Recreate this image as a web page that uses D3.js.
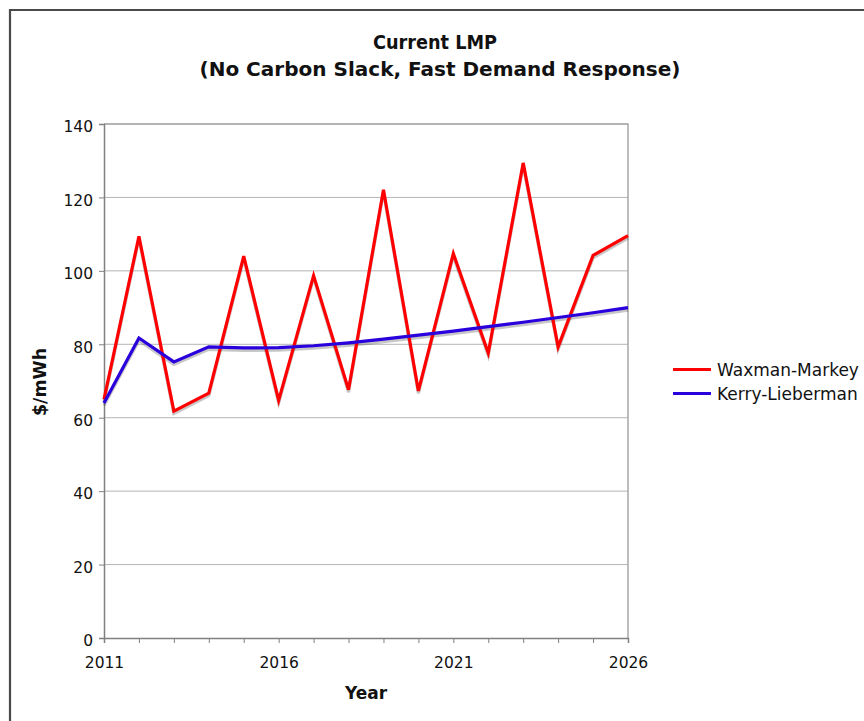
<!DOCTYPE html>
<html>
<head>
<meta charset="utf-8">
<script src="https://cdn.jsdelivr.net/npm/d3@7"></script>
<style>
  html, body { margin: 0; padding: 0; background: #fff; }
  svg { display: block; }
  text { font-family: "DejaVu Sans", Verdana, sans-serif; fill: #111; }
</style>
</head>
<body>
<script>
// Years on the x axis
const years = d3.range(2011, 2027);
// Locational marginal price, $/mWh
const waxmanMarkey = [65, 109.4, 61.8, 66.7, 104, 64.7, 98.7, 67.6, 122.1, 67.3, 104.7, 77.6, 129.4, 79.3, 104.2, 109.6];
const kerryLieberman = [64, 81.7, 75.2, 79.3, 79.0, 79.1, 79.6, 80.4, 81.4, 82.5, 83.6, 84.8, 86.0, 87.3, 88.6, 90.0];
const seriesNames = ["Waxman-Markey", "Kerry-Lieberman"];
const seriesColors = ["#ff0000", "#2a00dd"];
const yTicks = [0, 20, 40, 60, 80, 100, 120, 140];
const xTickLabels = [2011, 2016, 2021, 2026];

const W = 864, H = 721;
const m = { left: 104, right: 236, top: 124, bottom: 83 };

const svg = d3.select("body").append("svg").attr("width", W).attr("height", H);

// outer frame
svg.append("path")
  .attr("d", `M10,${H} V10 H${W}`)
  .attr("fill", "none").attr("stroke", "#4a4a4a").attr("stroke-width", 2.2);

const x = d3.scaleLinear().domain([2011, 2026]).range([m.left, W - m.right]);
const y = d3.scaleLinear().domain([0, 140]).range([H - m.bottom, m.top]);

// horizontal gridlines
svg.append("g").selectAll("line").data(yTicks.filter(v => v > 0)).join("line")
  .attr("x1", m.left).attr("x2", W - m.right)
  .attr("y1", d => y(d)).attr("y2", d => y(d))
  .attr("stroke", "#b4b4b4").attr("stroke-width", 1);

// plot frame (top and right)
svg.append("path")
  .attr("d", `M${m.left},${y(140)} H${x(2026)} V${y(0)}`)
  .attr("fill", "none").attr("stroke", "#a8a8a8").attr("stroke-width", 1.5);

// y axis
const yAxis = svg.append("g").attr("transform", `translate(${m.left},0)`)
  .call(d3.axisLeft(y).tickValues(yTicks).tickSize(5).tickPadding(6));
yAxis.select(".domain").attr("stroke", "#808080").attr("stroke-width", 1.5);
yAxis.selectAll(".tick line").attr("stroke", "#808080");
yAxis.selectAll("text").attr("font-size", 15.5).attr("fill", "#111")
  .attr("dy", "0.5em")
  .attr("font-family", "DejaVu Sans, Verdana, sans-serif");

// x axis: a tick every year, labels every five
const xAxis = svg.append("g").attr("transform", `translate(0,${y(0)})`)
  .call(d3.axisBottom(x).tickValues(years).tickSize(5).tickPadding(14)
    .tickFormat(d => xTickLabels.includes(d) ? String(d) : ""));
xAxis.select(".domain").attr("stroke", "#808080").attr("stroke-width", 1.5);
xAxis.selectAll(".tick line").attr("stroke", "#808080");
xAxis.selectAll("text").attr("font-size", 15.5).attr("fill", "#111")
  .attr("font-family", "DejaVu Sans, Verdana, sans-serif");

const line = d3.line().x((d, i) => x(years[i])).y(d => y(d));
const allSeries = [waxmanMarkey, kerryLieberman];

// soft drop shadow under each series
allSeries.forEach(s => {
  svg.append("path").datum(s).attr("d", line)
    .attr("transform", "translate(0,2.5)")
    .attr("fill", "none").attr("stroke", "rgba(0,0,0,0.22)")
    .attr("stroke-width", 3.2).attr("stroke-linejoin", "miter");
});
allSeries.forEach((s, k) => {
  svg.append("path").datum(s).attr("d", line)
    .attr("fill", "none").attr("stroke", seriesColors[k])
    .attr("stroke-width", 3.2).attr("stroke-linejoin", "miter");
});

// titles
svg.append("text").attr("x", 435).attr("y", 49).attr("text-anchor", "middle")
  .attr("font-size", 20).attr("font-weight", "bold")
  .attr("textLength", 124).attr("lengthAdjust", "spacingAndGlyphs")
  .text("Current LMP");
svg.append("text").attr("x", 440).attr("y", 76).attr("text-anchor", "middle")
  .attr("font-size", 20).attr("font-weight", "bold")
  .attr("textLength", 481).attr("lengthAdjust", "spacingAndGlyphs")
  .text("(No Carbon Slack, Fast Demand Response)");

svg.append("text").attr("x", 366).attr("y", 699).attr("text-anchor", "middle")
  .attr("font-size", 17).attr("font-weight", "bold").text("Year");
svg.append("text").attr("transform", "translate(46,382) rotate(-90)")
  .attr("text-anchor", "middle").attr("font-size", 17).attr("font-weight", "bold")
  .attr("textLength", 68).attr("lengthAdjust", "spacingAndGlyphs")
  .text("$/mWh");

// legend
const lg = svg.append("g");
seriesNames.forEach((n, k) => {
  const ly = 369.5 + k * 24;
  lg.append("line").attr("x1", 673).attr("x2", 711).attr("y1", ly).attr("y2", ly)
    .attr("stroke", seriesColors[k]).attr("stroke-width", 3);
  lg.append("text").attr("x", 717).attr("y", ly + 6).attr("font-size", 17).text(n);
});
</script>
</body>
</html>
